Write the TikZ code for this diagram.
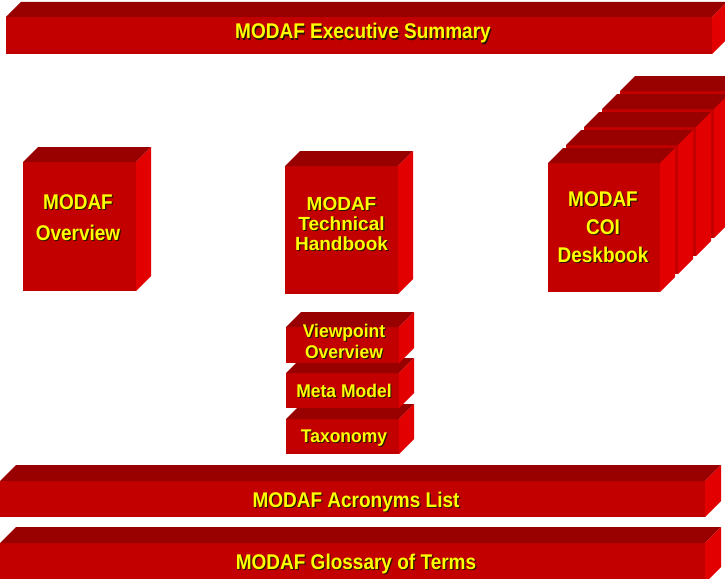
\documentclass[tikz,border=0pt]{standalone}
\usepackage{fontspec}
\usepackage{graphicx}
\setmainfont{Liberation Sans}
\usetikzlibrary{calc}
\definecolor{frontc}{RGB}{194,0,0}
\definecolor{topc}{RGB}{153,0,0}
\definecolor{sidec}{RGB}{226,0,0}
\definecolor{txtc}{RGB}{255,255,0}
\definecolor{shc}{RGB}{45,20,0}
\newcommand\shd[1]{\rlap{\hspace{1.2pt}\raisebox{-1.2pt}{\color{shc}#1}}#1}
\newcommand\bt[1]{\scalebox{1}[1.12]{\shd{#1}}}
\newcommand\st[1]{\scalebox{1}[1.05]{\shd{#1}}}
% name, x, y (top-left of front face), width, height, depth
\newcommand\slab[6]{%
  \node[face, minimum width=#4, minimum height=#5] (#1) at (#2,#3) {};
  \fill[topc] (#1.north west) -- ++(#6,-#6) -- ($(#1.north east)+(#6,-#6)$) -- (#1.north east) -- cycle;
  \fill[sidec] (#1.north east) -- ++(#6,-#6) -- ($(#1.south east)+(#6,-#6)$) -- (#1.south east) -- cycle;
}
\tikzset{
  face/.style={fill=frontc, draw=none, inner sep=0pt, outer sep=0pt, anchor=north west},
  bigtxt/.style={text=txtc, font=\fontsize{19}{22}\selectfont\bfseries, anchor=base, inner sep=0pt},
  smalltxt/.style={text=txtc, font=\fontsize{17.5}{20}\selectfont\bfseries, anchor=base, inner sep=0pt},
}
\begin{document}
\begin{tikzpicture}[x=1pt,y=-1pt]
\useasboundingbox (0,0) rectangle (725,578);
\begin{scope}
\clip (0,0) rectangle (725,578);
% Executive summary bar
\slab{exec}{6}{17}{706}{37}{15}
\node[bigtxt] (exectxt) at (363,39) {\bt{MODAF Executive Summary}};
% Overview
\slab{ov}{23}{162}{113}{129}{15}
\node[bigtxt] (ovt1) at (78,209) {\bt{MODAF}};
\node[bigtxt] (ovt2) at (78,240) {\bt{Overview}};
% Technical handbook
\slab{tech}{285}{166}{113}{128}{15}
\node[bigtxt] (tht1) at (341.5,210.5) {\shd{MODAF}};
\node[bigtxt] (tht2) at (341.5,230.5) {\shd{Technical}};
\node[bigtxt] (tht3) at (341.5,250.5) {\shd{Handbook}};
% COI deskbook stack
\foreach \k in {4,3,2,1,0}{
  \slab{coi\k}{548+18*\k}{163-18*\k}{112}{129}{15}
}
\node[bigtxt] (coit1) at (603,206) {\bt{MODAF}};
\node[bigtxt] (coit2) at (603,234) {\bt{COI}};
\node[bigtxt] (coit3) at (603,262) {\bt{Deskbook}};
% small stack (bottom first)
\slab{tax}{286}{419}{113}{35}{15}
\node[smalltxt] (taxt) at (344,442) {\st{Taxonomy}};
\slab{meta}{286}{373}{113}{35}{15}
\node[smalltxt] (metat) at (344,397) {\st{Meta Model}};
\slab{view}{286}{327}{113}{36}{15}
\node[smalltxt] (viewt1) at (344,337) {\st{Viewpoint}};
\node[smalltxt] (viewt2) at (344,358) {\st{Overview}};
% Acronyms and Glossary bars
\slab{acr}{0}{481}{705}{36}{16}
\node[bigtxt] (acrt) at (356,507) {\bt{MODAF Acronyms List}};
\slab{glo}{0}{543}{705}{40}{16}
\node[bigtxt] (glot) at (356,569) {\bt{MODAF Glossary of Terms}};
\end{scope}
\end{tikzpicture}
\end{document}
